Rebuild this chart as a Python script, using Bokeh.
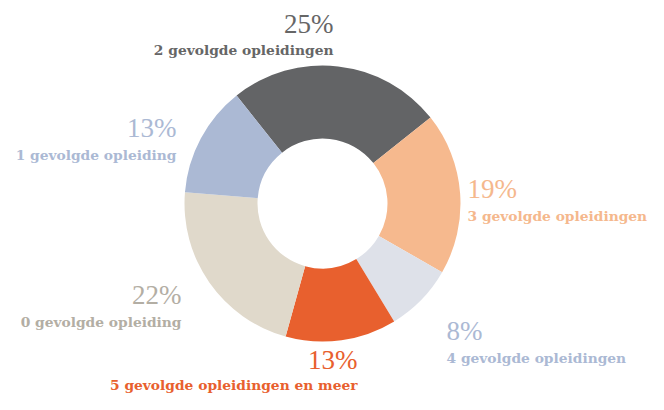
import math
from bokeh.plotting import figure
from bokeh.models import Range1d, ColumnDataSource
from bokeh.core.properties import value
from bokeh.embed import file_html
from bokeh.resources import INLINE

# Data (clockwise from the top-left edge of the first slice)
categories = ["2 gevolgde opleidingen", "3 gevolgde opleidingen", "4 gevolgde opleidingen",
              "5 gevolgde opleidingen en meer", "0 gevolgde opleiding", "1 gevolgde opleiding"]
percentages = [25, 19, 8, 13, 22, 13]
slice_colors = ["#636466", "#f6b98e", "#dee1e9", "#e8602e", "#e0d9cb", "#abb9d4"]
label_colors = ["#666666", "#f5b88d", "#abb9d4", "#e8602e", "#b3aea4", "#abb9d4"]

# Layout (picture pixel coordinates, top-left origin)
W, H = 648, 394
CX, CY = 322, 203
R_OUT, R_IN = 138, 65
START_DEG = -38.5  # clockwise from top
PCT_SIZE, LBL_SIZE = 27, 13.8
BASE_FIX = 0.34  # renderer places alphabetic baseline ~0.34em low

# label anchors: x, align, pct baseline, label baseline
anchors = [
    (333, "right", 33, 54),
    (467, "left", 198, 220),
    (446, "left", 340, 362),
    (357, "right", 369, 389),
    (181, "right", 304, 326),
    (176, "right", 137, 159),
]

def py(y):
    return 410 - y

total = float(sum(percentages))
starts, ends = [], []
acc = START_DEG
for v in percentages:
    a0 = acc
    a1 = acc + 360.0 * v / total
    starts.append(math.radians(90 - a0))
    ends.append(math.radians(90 - a1))
    acc = a1

p = figure(width=W, height=H, output_backend="svg", toolbar_location=None,
           x_range=Range1d(0, W), y_range=Range1d(410 - H, 410),
           min_border=0)
p.axis.visible = False
p.grid.visible = False
p.outline_line_color = None
p.background_fill_color = "white"
p.border_fill_color = "white"

src = ColumnDataSource(dict(x=[CX] * len(percentages), y=[py(CY)] * len(percentages),
                            start=starts, end=ends, color=slice_colors))
p.annular_wedge(x="x", y="y", inner_radius=R_IN, outer_radius=R_OUT,
                start_angle="start", end_angle="end", direction="clock",
                fill_color="color", line_color=None, source=src)

for cat, val, col, (ax, align, yb1, yb2) in zip(categories, percentages, label_colors, anchors):
    p.text(x=[ax], y=[py(yb1 - BASE_FIX * PCT_SIZE)], text=[f"{val}%"], text_color=col,
           text_font=value("Liberation Serif"), text_font_size=f"{PCT_SIZE}px",
           text_align=align, text_baseline="alphabetic")
    p.text(x=[ax], y=[py(yb2 - BASE_FIX * LBL_SIZE)], text=[cat], text_color=col,
           text_font=value("DejaVu Serif"), text_font_size=f"{LBL_SIZE}px", text_font_style="bold",
           text_align=align, text_baseline="alphabetic")

open("out.html", "w").write(file_html(p, INLINE))
